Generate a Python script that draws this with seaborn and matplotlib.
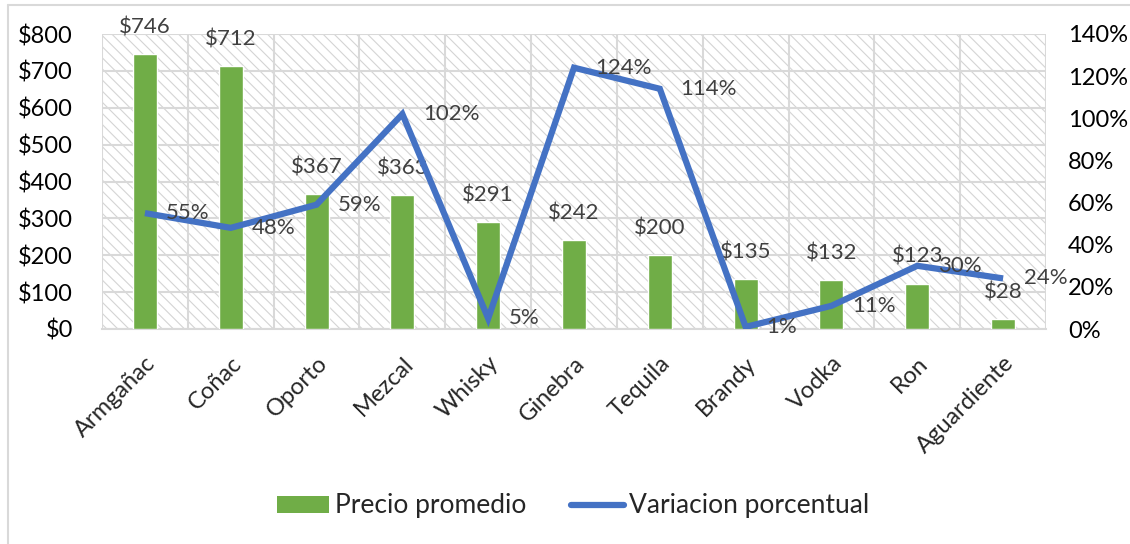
import matplotlib
matplotlib.use("Agg")
import matplotlib.pyplot as plt
import seaborn as sns
import numpy as np
import pandas as pd
from matplotlib.patches import Rectangle
from matplotlib.lines import Line2D
from matplotlib.ticker import FuncFormatter, MultipleLocator

categories = ["Armgañac", "Coñac", "Oporto", "Mezcal", "Whisky", "Ginebra",
              "Tequila", "Brandy", "Vodka", "Ron", "Aguardiente"]
precio = [746, 712, 367, 363, 291, 242, 200, 135, 132, 123, 28]
variacion = [55, 48, 59, 102, 5, 124, 114, 1, 11, 30, 24]

sns.set_theme(style="white")
plt.rcParams['font.family'] = ['Lato', 'DejaVu Sans']
plt.rcParams['hatch.linewidth'] = 0.8

GREEN = "#70AD47"
BLUE = "#4472C4"
GRID = "#d9d9d9"
LABEL = "#404040"

df = pd.DataFrame({"cat": categories, "precio": precio, "var": variacion})
df["pos"] = np.arange(len(df))

fig = plt.figure(figsize=(11.3, 5.44), dpi=100)
ax = fig.add_axes([102/1130, 1-329/544, (1046-102)/1130, (329-34)/544])

# hatched background
ax.add_patch(Rectangle((0, 0), 1, 1, transform=ax.transAxes, facecolor="white",
                       edgecolor="#d4d4d4", hatch="\\\\\\", lw=0, zorder=0))

sns.barplot(data=df, x="cat", y="precio", color=GREEN, width=0.28,
            saturation=1, ax=ax, zorder=3, legend=False, label="Precio promedio")
ax.set_xlim(-0.5, len(df) - 0.5)
ax.set_ylim(0, 800)
ax.yaxis.set_major_locator(MultipleLocator(100))
ax.yaxis.set_major_formatter(FuncFormatter(lambda v, p: f"${v:.0f}"))
for yv in range(0, 801, 100):
    ax.axhline(yv, color=GRID, lw=1.5, zorder=1)
for xv in np.arange(-0.5, len(df), 1):
    ax.axvline(xv, color=GRID, lw=1.5, zorder=1)
for s in ["top", "right", "left"]:
    ax.spines[s].set_visible(False)
ax.spines["bottom"].set_color(GRID)
ax.spines["bottom"].set_linewidth(1.5)
ax.set_xlabel("")
ax.set_ylabel("")
ax.tick_params(axis="y", labelsize=17, colors="black", length=0, pad=21)
ax.set_xticks(df["pos"])
ax.set_xticklabels(categories, rotation=45, ha="right", rotation_mode="anchor",
                   fontsize=17)
ax.tick_params(axis="x", length=0, pad=17)
# tick marks at boundaries
ax.set_xticks(np.arange(-0.5, len(df), 1), minor=True)
ax.tick_params(axis="x", which="minor", length=6, width=1.5, color=GRID,
               direction="out")

ax.bar_label(ax.containers[0], fmt="${:.0f}", padding=12, fontsize=16,
             color=LABEL)

ax2 = ax.twinx()
sns.lineplot(data=df, x="pos", y="var", color=BLUE, lw=4.5, ax=ax2, zorder=4,
             label="Variacion porcentual", legend=False,
             solid_capstyle="butt", solid_joinstyle="miter")
ax2.set_ylim(0, 140)
ax2.yaxis.set_major_locator(MultipleLocator(20))
ax2.yaxis.set_major_formatter(FuncFormatter(lambda v, p: f"{v:.0f}%"))
ax2.tick_params(axis="y", labelsize=17, colors="black", length=0, pad=16)
for s in ["top", "right", "left", "bottom"]:
    ax2.spines[s].set_visible(False)
ax2.set_xlabel("")
ax2.set_ylabel("")
ax2.set_xlim(-0.5, len(df) - 0.5)

for x, v in zip(df["pos"], variacion):
    ax2.annotate(f"{v}%", (x, v), xytext=(15, 0), textcoords="offset points",
                 ha="left", va="center", fontsize=16, color=LABEL, zorder=5)

handles = [Rectangle((0, 0), 1, 1, facecolor=GREEN, edgecolor="none"),
           Line2D([0], [0], color=BLUE, lw=4.5, solid_capstyle="round")]
fig.legend(handles, ["Precio promedio", "Variacion porcentual"],
           loc="center", bbox_to_anchor=(0.507, 1-506/544), ncol=2,
           frameon=False, fontsize=19, handlelength=2.0, handleheight=0.6,
           columnspacing=1.7, handletextpad=0.2)

# figure border (top and left visible)
fig.add_artist(Line2D([8/1130, 1], [1-5/544, 1-5/544], transform=fig.transFigure,
                      color=GRID, lw=1.5))
fig.add_artist(Line2D([8/1130, 8/1130], [0, 1-5/544], transform=fig.transFigure,
                      color=GRID, lw=1.5))

fig.savefig("out.png", dpi=100)
